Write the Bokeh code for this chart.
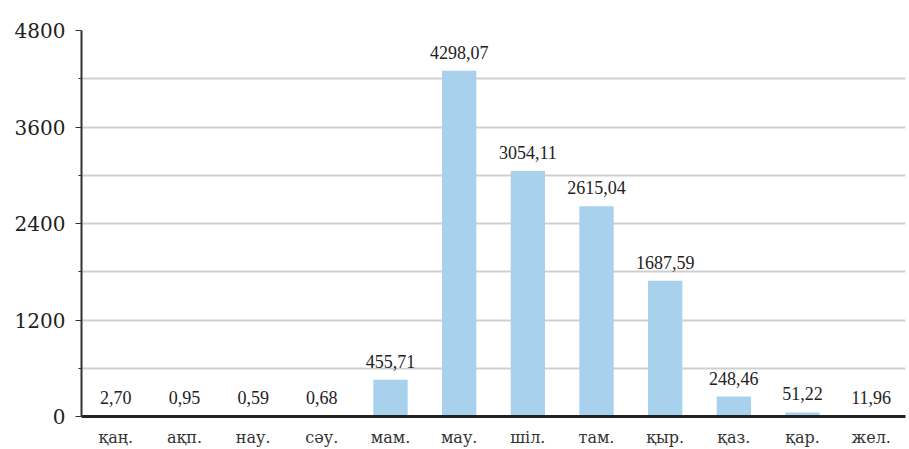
from bokeh.plotting import figure
from bokeh.models import ColumnDataSource, LabelSet, FixedTicker, Range1d, FactorRange
from bokeh.embed import file_html
from bokeh.resources import INLINE

months = ["қаң.", "ақп.", "нау.", "сәу.", "мам.", "мау.", "шіл.", "там.", "қыр.", "қаз.", "қар.", "жел."]
values = [2.70, 0.95, 0.59, 0.68, 455.71, 4298.07, 3054.11, 2615.04, 1687.59, 248.46, 51.22, 11.96]
value_labels = ["2,70", "0,95", "0,59", "0,68", "455,71", "4298,07", "3054,11", "2615,04",
                "1687,59", "248,46", "51,22", "11,96"]
y_ticks = [0, 1200, 2400, 3600, 4800]
y_minor = [600, 1800, 3000, 4200]

SERIF = "DejaVu Serif"

src = ColumnDataSource(dict(m=months, v=values, lab=value_labels))

p = figure(width=909, height=449, x_range=FactorRange(*months, range_padding=0.0),
           y_range=Range1d(0, 4800), output_backend="svg", toolbar_location=None,
           min_border_left=81, min_border_right=4, min_border_top=30, min_border_bottom=5)
p.outline_line_color = None
p.background_fill_color = "white"
p.border_fill_color = "white"

p.vbar(x="m", top="v", width=0.5, source=src, fill_color="#a7d1ec", line_color=None)

labels = LabelSet(x="m", y="v", text="lab", source=src, text_align="center",
                  text_baseline="alphabetic", y_offset=12, text_font=SERIF,
                  text_font_size="18px", text_color="#222222",
                  background_fill_color="white", background_fill_alpha=1.0)
p.add_layout(labels)

p.xgrid.grid_line_color = None
p.ygrid.grid_line_color = "#cfcfcf"
p.ygrid.grid_line_width = 2
p.ygrid.minor_grid_line_color = "#cfcfcf"
p.ygrid.minor_grid_line_width = 2

p.yaxis.ticker = FixedTicker(ticks=y_ticks, minor_ticks=y_minor)
p.yaxis.axis_line_color = "#333333"
p.yaxis.axis_line_width = 2
p.yaxis.major_tick_out = 6
p.yaxis.major_tick_in = 0
p.yaxis.minor_tick_out = 3
p.yaxis.minor_tick_in = 0
p.yaxis.major_tick_line_color = "#333333"
p.yaxis.minor_tick_line_color = "#333333"
p.yaxis.major_label_text_font = SERIF
p.yaxis.major_label_text_font_size = "20px"
p.yaxis.major_label_text_color = "#222222"
p.yaxis.major_label_standoff = 10

p.xaxis.axis_line_color = "#222222"
p.xaxis.axis_line_width = 3
p.xaxis.major_tick_line_color = None
p.xaxis.minor_tick_line_color = None
p.xaxis.major_label_text_font = SERIF
p.xaxis.major_label_text_font_size = "16px"
p.xaxis.major_label_text_color = "#333333"
p.xaxis.major_label_standoff = 5

open("out.html", "w").write(file_html(p, INLINE))
